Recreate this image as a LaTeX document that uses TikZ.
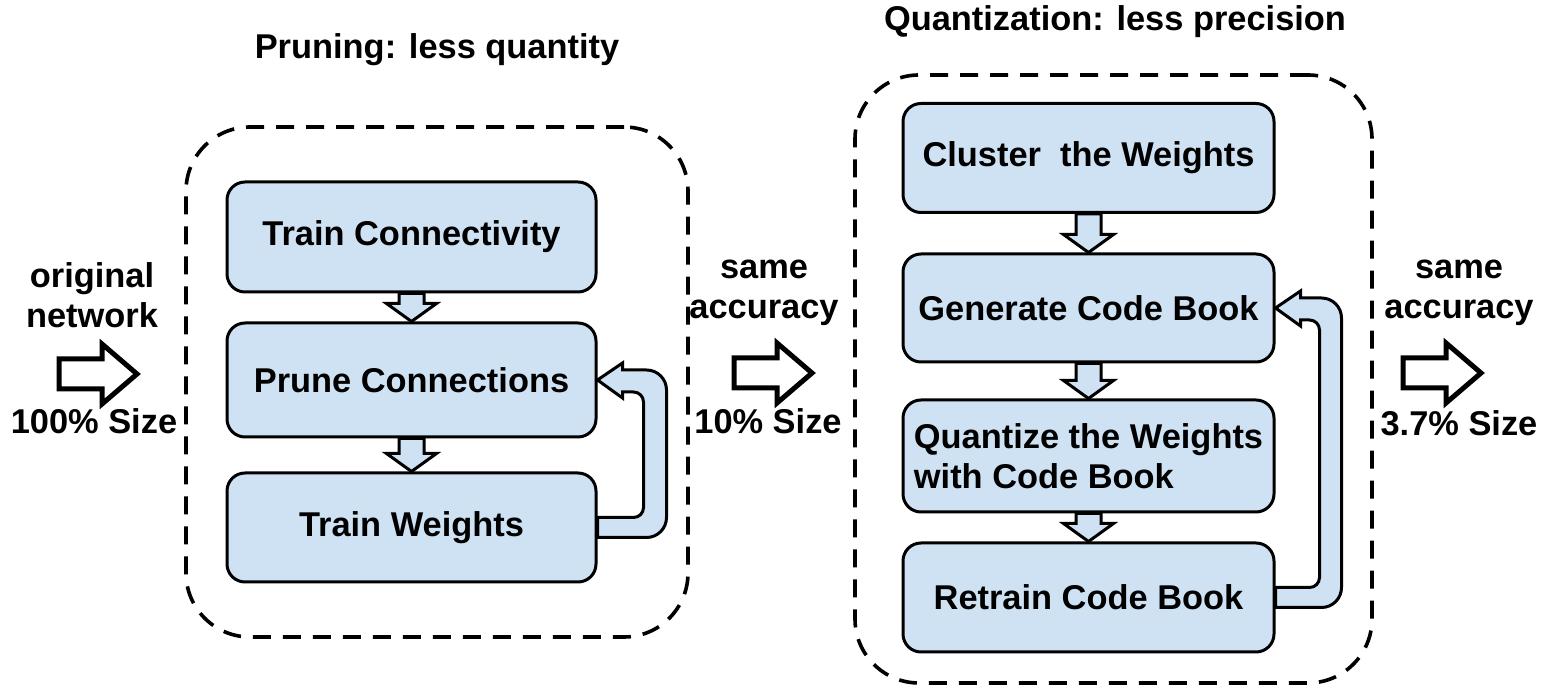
\documentclass[tikz,border=0pt]{standalone}
\usepackage{fontspec}
\setmainfont{Liberation Sans}
\usetikzlibrary{calc,backgrounds}
\definecolor{boxblue}{HTML}{CFE2F3}
\newcommand{\fs}{\fontsize{17.2}{20}\selectfont\bfseries}
\tikzset{
  x=0.5pt, y=-0.5pt,
  stepbox/.style={draw, line width=1.5pt, fill=boxblue, rounded corners=9pt,
    inner sep=0pt, font=\fs, align=center},
  container/.style={draw, line width=1.8pt, dash pattern=on 9pt off 6pt,
    rounded corners=32pt, inner sep=0pt},
  lbl/.style={font=\fs, align=center, inner sep=0pt},
  bigarrow/.style={draw, line width=2.5pt, fill=white, line join=miter},
  blk/.style={draw, fill=boxblue, line width=1.5pt, line join=miter},
}
% small down arrow between two boxes
\newcommand{\darr}[2]{%
  \path[blk] let \p1=(#1.south), \p2=(#2.north) in
    (\x1-6.25pt,\y1) -- (\x1-6.25pt,\y2+9pt) -- (\x1-12.5pt,\y2+9pt) -- (\x1,\y2)
    -- (\x1+12.5pt,\y2+9pt) -- (\x1+6.25pt,\y2+9pt) -- (\x1+6.25pt,\y1) -- cycle;}
% feedback band from #1 east back up to #2 east; #3 = inner offset, #4 = outer offset (px)
\newcommand{\fback}[4]{%
  \path[blk] ($(#1.east)+(0,-10)$) [rounded corners=5pt] -- ($(#1.east)+(#3,-10)$)
    -- ($(#2.east)+(#3,12)$) [sharp corners] -- ($(#2.east)+(25,12)$) -- ($(#2.east)+(25,18)$)
    -- (#2.east) -- ($(#2.east)+(25,-17)$) -- ($(#2.east)+(25,-10)$) [rounded corners=10pt]
    -- ($(#2.east)+(#4,-10)$) -- ($(#1.east)+(#4,10)$) [sharp corners] -- ($(#1.east)+(0,10)$) -- cycle;}
% big hollow right arrow centred on coordinate #1
\newcommand{\bigarr}[1]{%
  \path[bigarrow] ($(#1)+(-39,-15)$) -- ($(#1)+(4,-15)$) -- ($(#1)+(4,-30)$) -- ($(#1)+(39,0)$)
    -- ($(#1)+(4,30)$) -- ($(#1)+(4,15)$) -- ($(#1)+(-39,15)$) -- cycle;}
\begin{document}
\begin{tikzpicture}
\useasboundingbox (0,0) rectangle (1548,688);

% containers
\node[container, minimum width=251pt, minimum height=255pt] (lc) at (437,382) {};
\node[container, minimum width=258.5pt, minimum height=304pt] (rc) at (1113.5,379) {};
\node[lbl] (lt) at (437,50) {Pruning: less quantity};
\node[lbl] (rt) at (1115,22) {Quantization: less precision};

% left boxes
\node[stepbox, minimum width=184.5pt, minimum height=55pt] (tc) at (411.5,237) {Train Connectivity};
\node[stepbox, minimum width=184.5pt, minimum height=57pt] (pc) at (411.5,380) {Prune Connections};
\node[stepbox, minimum width=184.5pt, minimum height=54.5pt] (tw) at (411.5,527.5) {Train Weights};

% right boxes
\node[stepbox, minimum width=185.5pt, minimum height=54.5pt] (cw) at (1088.5,158) {Cluster\ \ the Weights};
\node[stepbox, minimum width=185.5pt, minimum height=54pt] (gc) at (1088.5,308) {Generate Code Book};
\node[stepbox, minimum width=185.5pt, minimum height=56pt, align=left] (qw) at (1088.5,456) {Quantize the Weights\\with Code Book};
\node[stepbox, minimum width=185.5pt, minimum height=54.5pt] (rb) at (1088.5,597.5) {Retrain Code Book};

\begin{scope}[on background layer]
  \darr{tc}{pc}
  \darr{pc}{tw}
  \darr{cw}{gc}
  \darr{gc}{qw}
  \darr{qw}{rb}
\end{scope}
\fback{tw}{pc}{46}{69}
\fback{rb}{gc}{44}{66}

% big arrows and labels
\coordinate (a1) at (98,374);
\coordinate (a2) at (773,373);
\coordinate (a3) at (1442,373);
\bigarr{a1}
\bigarr{a2}
\bigarr{a3}
\node[lbl] (l1a) at (92,295) {original\\network};
\node[lbl] (l1b) at (94,421) {100\% Size};
\node[lbl] (l2a) at (764,293) {same\\accuracy};
\node[lbl] (l2b) at (768,421) {10\% Size};
\node[lbl] (l3a) at (1459,293) {same\\accuracy};
\node[lbl] (l3b) at (1459,423) {3.7\% Size};
\end{tikzpicture}
\end{document}
